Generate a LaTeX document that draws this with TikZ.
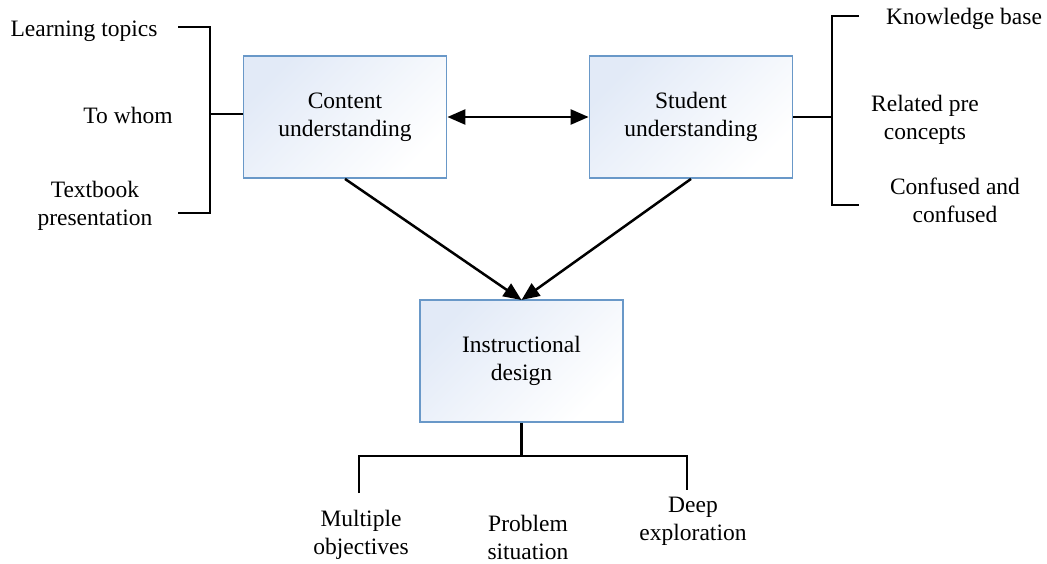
\documentclass[tikz,border=0pt]{standalone}
\usepackage{fontspec}
\setmainfont{Liberation Serif}
\usetikzlibrary{arrows.meta}
\definecolor{boxedge}{RGB}{105,152,200}
\definecolor{boxtint}{RGB}{226,234,247}
\begin{document}
\begin{tikzpicture}[x=1pt,y=-1pt,
  txt/.style={font=\fontsize{23.5}{28}\selectfont, align=center, inner sep=0pt},
  block/.style={txt, draw=boxedge, line width=1.8pt, minimum width=203pt, minimum height=122pt,
    top color=boxtint, bottom color=white, shading angle=45},
  link/.style={line width=2.5pt, black},
  arr/.style={link, -{Triangle[length=18pt,width=15pt]}},
  darr/.style={link, {Triangle[length=18pt,width=15pt]}-{Triangle[length=18pt,width=15pt]}}]
\useasboundingbox (0,0) rectangle (1047,564);

% main blocks
\node[block] (content) at (345,117) {Content\\understanding};
\node[block] (student) at (691,117) {Student\\understanding};
\node[block] (design)  at (521.5,361) {Instructional\\design};

% arrows between blocks
\draw[darr] (content.east) -- (student.west);
\coordinate (dtop) at (521.5,300);
\draw[arr] (content.south) -- (dtop);
\draw[arr] (student.south) -- (dtop);

% left bracket
\node[txt] (lt) at (84,31)  {Learning topics};
\node[txt] (tw) at (128,115) {To whom};
\node[txt] (tp) at (95,206) {Textbook\\presentation};
\coordinate (lA) at (178,27);
\coordinate (lB) at (210,27);
\coordinate (lC) at (210,213);
\coordinate (lD) at (178,213);
\coordinate (lM) at (210,114);
\draw[link] (lA) -- (lB) -- (lC) -- (lD);
\draw[link] (lM) -- (content.west |- lM);

% right bracket
\node[txt] (kb) at (964,19)  {Knowledge base};
\node[txt] (rp) at (925,120) {Related pre\\concepts};
\node[txt] (cf) at (955,200) {Confused and\\confused};
\coordinate (rA) at (859,16);
\coordinate (rB) at (832,16);
\coordinate (rC) at (832,205);
\coordinate (rD) at (859,205);
\coordinate (rM) at (832,117);
\draw[link] (rA) -- (rB) -- (rC) -- (rD);
\draw[link] (student.east) -- (rM);

% bottom tree
\node[txt] (mo) at (361,535) {Multiple\\objectives};
\node[txt] (ps) at (528,537) {Problem\\situation};
\node[txt] (de) at (693,521) {Deep\\exploration};
\coordinate (bJ) at (521.5,456);
\coordinate (bL) at (359,456);
\coordinate (bR) at (687,456);
\coordinate (bLd) at (359,493);
\coordinate (bRd) at (687,490);
\draw[link] (design.south) -- (bJ);
\draw[link] (bLd) -- (bL) -- (bR) -- (bRd);
\end{tikzpicture}
\end{document}
